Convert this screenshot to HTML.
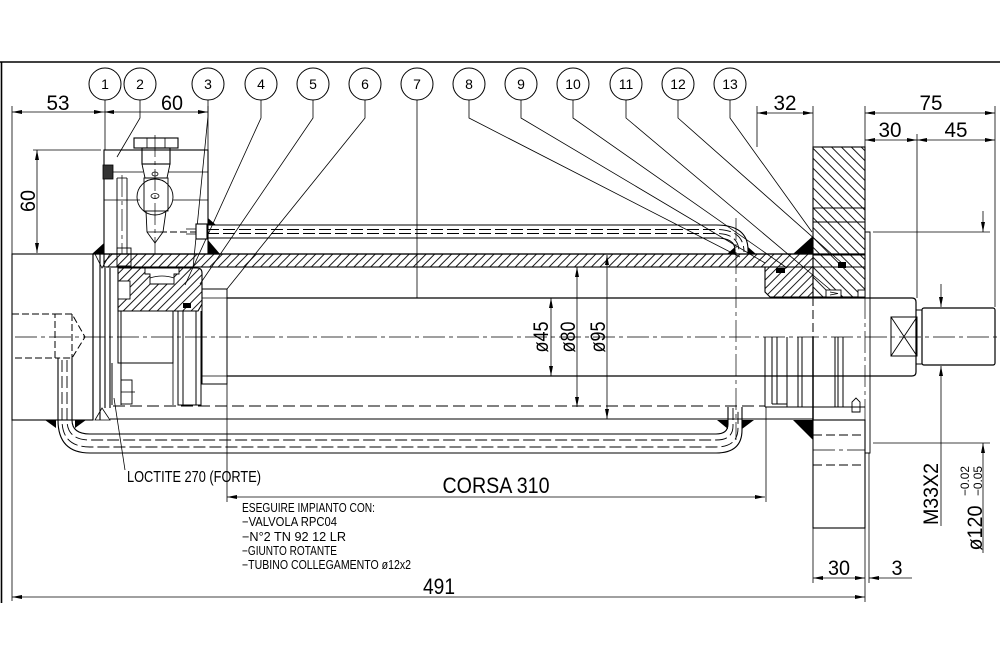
<!DOCTYPE html>
<html><head><meta charset="utf-8"><style>
html,body{margin:0;padding:0;background:#fff;}
svg{display:block;}
text{font-family:"Liberation Sans",Arial,sans-serif;fill:#000;}
</style></head><body>
<svg width="1000" height="667" viewBox="0 0 1000 667" xmlns="http://www.w3.org/2000/svg">
<defs>
<pattern id="hA" patternUnits="userSpaceOnUse" width="6" height="6" patternTransform="rotate(45)"><line x1="1" y1="0" x2="1" y2="6" stroke="#000" stroke-width="0.9"/></pattern>
<pattern id="hB" patternUnits="userSpaceOnUse" width="7" height="7" patternTransform="rotate(-45)"><line x1="1" y1="0" x2="1" y2="7" stroke="#000" stroke-width="0.9"/></pattern>
<marker id="ar" viewBox="0 0 10 4" refX="10" refY="2" markerWidth="10" markerHeight="4" markerUnits="userSpaceOnUse" orient="auto-start-reverse"><path d="M0,0 L10,2 L0,4 z" fill="#000"/></marker>
</defs>
<rect width="1000" height="667" fill="#fff"/>

<!-- frame -->
<g stroke="#000" fill="none">
<line x1="0" y1="62" x2="1000" y2="62" stroke-width="1.6"/>
<line x1="1.5" y1="62" x2="1.5" y2="603" stroke-width="1.6"/>
</g>

<!-- balloons -->
<g stroke="#000" fill="none" stroke-width="1">
<circle cx="105" cy="84" r="16"/><circle cx="140" cy="84" r="16"/><circle cx="208" cy="84" r="16"/>
<circle cx="261" cy="84" r="16"/><circle cx="313" cy="84" r="16"/><circle cx="365" cy="84" r="16"/>
<circle cx="417" cy="84" r="16"/><circle cx="469" cy="84" r="16"/><circle cx="521" cy="84" r="16"/>
<circle cx="573" cy="84" r="16"/><circle cx="626" cy="84" r="16"/><circle cx="678" cy="84" r="16"/>
<circle cx="730" cy="84" r="16"/>
</g>
<g font-size="14" text-anchor="middle">
<text x="105" y="89">1</text><text x="140" y="89">2</text><text x="208" y="89">3</text>
<text x="261" y="89">4</text><text x="313" y="89">5</text><text x="365" y="89">6</text>
<text x="417" y="89">7</text><text x="469" y="89">8</text><text x="521" y="89">9</text>
<text x="573" y="89">10</text><text x="626" y="89">11</text><text x="678" y="89">12</text>
<text x="730" y="89">13</text>
</g>

<!-- leaders -->
<g stroke="#000" fill="none" stroke-width="0.8">
<path d="M105,100 V150"/>
<path d="M140,100 V118 L117,157"/>
<path d="M208,100 V116 L193,268"/>
<path d="M261,100 V118 L185,285"/>
<path d="M313,100 V118 L200,284"/>
<path d="M365,100 V118 L227,289"/>
<path d="M417,100 V298"/>
<path d="M469,100 V118 L740,257"/>
<path d="M521,100 V118 L765,263"/>
<path d="M573,100 V118 L787,268"/>
<path d="M626,100 V118 L833,292"/>
<path d="M678,100 V118 L843,264"/>
<path d="M730,100 V118 L812,232"/>
</g>

<!-- center lines -->
<g stroke="#000" fill="none" stroke-width="0.7" stroke-dasharray="22,4,4,4">
<line x1="15" y1="337" x2="1000" y2="337"/>
<line x1="155" y1="135" x2="155" y2="254"/>
<line x1="122" y1="175" x2="122" y2="254"/>
<line x1="736" y1="218" x2="736" y2="440"/>
<line x1="865" y1="297" x2="865" y2="453"/>
<line x1="813" y1="450" x2="865" y2="450"/>
</g>

<!-- extension lines -->
<g stroke="#000" fill="none" stroke-width="0.8">
<line x1="12" y1="106" x2="12" y2="601"/>
<line x1="208" y1="106" x2="208" y2="150"/>
<line x1="33" y1="150" x2="101" y2="150"/>
<line x1="757" y1="106" x2="757" y2="147"/>
<line x1="813" y1="106" x2="813" y2="147"/>
<line x1="865" y1="106" x2="865" y2="147"/>
<line x1="917" y1="134" x2="917" y2="298"/>
<line x1="995" y1="106" x2="995" y2="307"/>
<line x1="227" y1="384" x2="227" y2="502"/>
<line x1="766" y1="407" x2="766" y2="502"/>
<line x1="873" y1="232" x2="990" y2="232"/>
<line x1="873" y1="443" x2="990" y2="443"/>
<line x1="813" y1="528" x2="813" y2="583"/>
<line x1="865" y1="453" x2="865" y2="602"/>
<line x1="869" y1="453" x2="869" y2="583"/>
</g>

<!-- dimension lines -->
<g stroke="#000" fill="none" stroke-width="0.8" marker-start="url(#ar)" marker-end="url(#ar)">
<line x1="12" y1="112" x2="104" y2="112"/>
<line x1="104" y1="112" x2="208" y2="112"/>
<line x1="37" y1="150" x2="37" y2="253"/>
<line x1="757" y1="113" x2="813" y2="113"/>
<line x1="865" y1="113" x2="995" y2="113"/>
<line x1="865" y1="140" x2="917" y2="140"/>
<line x1="917" y1="140" x2="995" y2="140"/>
<line x1="227" y1="497" x2="765" y2="497"/>
<line x1="12" y1="597" x2="865" y2="597"/>
<line x1="813" y1="578" x2="865" y2="578"/>
<line x1="551" y1="298" x2="551" y2="376"/>
<line x1="577" y1="267" x2="577" y2="407"/>
<line x1="607" y1="255" x2="607" y2="419"/>
</g>
<g stroke="#000" fill="none" stroke-width="0.8">
<line x1="941" y1="284" x2="941" y2="307" marker-end="url(#ar)"/>
<line x1="941" y1="366" x2="941" y2="526" marker-start="url(#ar)"/>
<line x1="983" y1="211" x2="983" y2="232" marker-end="url(#ar)"/>
<line x1="983" y1="443" x2="983" y2="553" marker-start="url(#ar)"/>
<line x1="869" y1="578" x2="912" y2="578" marker-start="url(#ar)"/>
<line x1="917" y1="140" x2="917" y2="140"/>
</g>

<!-- LEFT CAP -->
<g stroke="#000" fill="none" stroke-width="1.1">
<rect x="12" y="254" width="81" height="166"/>
<path d="M93,254 V420 M100,254 V420 M105,268 V408 M110,268 V408"/>
<path d="M95,254 L110,254 L102,268 Z M95,420 L110,420 L102,408 Z" stroke-width="0.8"/>
</g>
<!-- left hidden port -->
<g stroke="#000" fill="none" stroke-width="1" stroke-dasharray="7,3">
<path d="M12,314 H55 V358 H12"/>
<path d="M55,314 H72 L85,337 L72,358 H55"/>
<path d="M72,314 V358"/>
</g>

<!-- VALVE BLOCK 2 -->
<g stroke="#000" fill="none" stroke-width="1.1">
<rect x="104" y="150" width="104" height="104"/>
<path d="M104,172 H143 M168,172 H208 M104,200 H140 M173,200 H208" stroke-width="0.8"/>
<path d="M117,178 V254 M127,178 V254" stroke-width="0.9"/>
<path d="M117,178 H127" stroke-width="0.8"/>
<rect x="117" y="248" width="14" height="18" stroke-width="0.9"/>
<rect x="134" y="138" width="44" height="10"/>
<path d="M147,138 V148 M165,138 V148" stroke-width="0.8"/>
<rect x="142" y="148" width="28" height="16"/>
<path d="M142,164 L145,178 H167 L170,164" stroke-width="0.9"/>
<circle cx="155" cy="197" r="18" stroke-width="0.9"/>
<rect x="144" y="178" width="24" height="33" stroke-width="0.9"/>
<ellipse cx="155" cy="174" rx="3" ry="2" stroke-width="0.8"/>
<ellipse cx="155" cy="196" rx="4" ry="2.5" stroke-width="0.8"/>
<path d="M146,211 L147,232 L155,243 L163,232 L166,211" stroke-width="0.9"/>
<path d="M147,232 H163" stroke-width="0.8"/>
</g>
<rect x="103" y="165" width="10" height="14" fill="#333" stroke="#000" stroke-width="0.8"/>
<path d="M160,232 H196" stroke="#000" stroke-width="0.9" stroke-dasharray="7,3" fill="none"/>

<!-- TOP PIPE -->
<g stroke="#000" fill="none" stroke-width="1.1">
<path d="M196,225 H716 Q748,225 748,250 V254"/>
<path d="M196,238 H716 Q735,238 735,250 V254"/>
<rect x="196" y="224" width="11" height="15" fill="#fff"/>
<path d="M186,229 H196 M186,234 H196" stroke-width="0.8"/>
</g>
<g stroke="#000" fill="none" stroke-width="0.9" stroke-dasharray="12,4">
<path d="M207,229.5 H716 Q744,229.5 744,252"/>
<path d="M207,233.5 H716 Q739,233.5 739,252"/>
</g>

<!-- BARREL TOP WALL -->
<rect x="104" y="254" width="709" height="13" fill="url(#hA)" stroke="#000" stroke-width="1.1"/>
<line x1="93" y1="254" x2="865" y2="254" stroke="#000" stroke-width="1.2"/>

<!-- welds -->
<g fill="#000">
<path d="M92,254 L104,243 L104,254 Z"/>
<path d="M208,218 L216,225 L208,225 Z"/>
<path d="M208,240 L208,254 L220,254 Z"/>
<path d="M727,254 L735,247 L735,254 Z"/>
<path d="M748,247 L748,254 L756,254 Z"/>
<path d="M793,254 L813,236 L813,254 Z"/>
<path d="M45,420 L56,420 L56,428 Z"/>
<path d="M75,420 L86,420 L75,428 Z"/>
<path d="M717,420 L728,420 L728,429 Z"/>
<path d="M742,420 L754,420 L742,429 Z"/>
<path d="M793,420 L813,420 L813,440 Z"/>
</g>

<!-- PISTON -->
<path d="M118,268 H197 Q202,268 202,273 V304 L198,311 H118 Z" fill="url(#hA)" stroke="#000" stroke-width="1.1"/>
<path d="M145,268 V274 H150 V284 H174 V274 H179 V268 Z" fill="#fff" stroke="#000" stroke-width="0.9"/>
<path d="M150,278 Q162,274 174,278" fill="none" stroke="#000" stroke-width="0.8"/>
<rect x="118" y="281" width="12" height="18" fill="#fff" stroke="#000" stroke-width="0.9"/>
<rect x="183" y="303" width="8" height="5" fill="#000"/>
<g stroke="#000" fill="none" stroke-width="1">
<rect x="118" y="311" width="55" height="52"/>
<path d="M121,311 V405 M112,363 V405"/>
<path d="M178,311 V405 H201 V311 M183,311 V405 M196,311 V405"/>
<rect x="202" y="289" width="25" height="95"/>
<path d="M202,298 H227 M202,376 H227" stroke-width="0.8"/>
<rect x="121" y="380" width="11" height="24" stroke-width="0.9"/>
<path d="M121,392 H132 L135,392" stroke-width="0.8"/>
<path d="M173,363 V405" stroke-width="0.8"/>
</g>

<!-- ROD -->
<g stroke="#000" fill="none" stroke-width="1.2">
<path d="M227,298 H912 Q916,298 916,302 V372 Q916,376 912,376 H227"/>
<rect x="891" y="317" width="26" height="39" stroke-width="1"/>
<path d="M891,317 L917,356 M917,317 L891,356" stroke-width="0.9"/>
<path d="M916,310 H922 M916,364 H922" stroke-width="0.9"/>
<rect x="922" y="308" width="73" height="57" rx="2"/>
</g>

<!-- barrel lower -->
<g stroke="#000" fill="none" stroke-width="1.1">
<line x1="110" y1="419" x2="813" y2="419"/>
</g>
<line x1="113" y1="406" x2="765" y2="406" stroke="#000" stroke-width="1" stroke-dasharray="12,5"/>

<!-- BOTTOM PIPE -->
<g stroke="#000" fill="none" stroke-width="1.1">
<path d="M58,358 V420 Q58,453 90,453 H716 Q742,453 742,430 V407"/>
<path d="M72,358 V420 Q72,434 90,434 H716 Q728,434 728,424 V407"/>
</g>
<g stroke="#000" fill="none" stroke-width="0.9" stroke-dasharray="12,4">
<path d="M62,360 V420 Q62,447 90,447 H716 Q738,447 738,428 V408"/>
<path d="M67,360 V420 Q67,440 90,440 H716 Q733,440 733,426 V408"/>
</g>

<!-- FLANGE & GLAND -->
<rect x="813" y="147" width="52" height="150" fill="url(#hB)" stroke="#000" stroke-width="1.1"/>
<path d="M765,267 H813 V297 H770 L765,292 Z" fill="url(#hA)" stroke="#000" stroke-width="1.1"/>
<g stroke="#000" fill="none" stroke-width="0.9">
<path d="M813,208 H865 M813,222 H865 M813,255 H865 M813,267 H865"/>
<path d="M865,232 H870 V453 H865"/>
</g>
<rect x="776" y="268" width="9" height="5" fill="#000"/>
<rect x="838" y="262" width="8" height="6" fill="#000"/>
<rect x="826" y="290" width="15" height="7" fill="#fff" stroke="#000" stroke-width="0.9"/>
<path d="M830,292 L838,293.5 L830,295" fill="none" stroke="#000" stroke-width="0.7"/>
<rect x="858" y="290" width="7" height="7" fill="#fff" stroke="#000" stroke-width="0.9"/>
<line x1="813" y1="297" x2="813" y2="420" stroke="#000" stroke-width="1" stroke-dasharray="9,4"/>

<!-- gland lower rings -->
<g stroke="#000" fill="none" stroke-width="1">
<path d="M765,337 V407 M772,337 V404 M777,337 V404 M787,337 V407 M798,337 V407 M802,337 V407 M835,337 V407 M838,337 V407 M843,337 V407"/>
<path d="M813,337 V420" stroke-width="1.5"/>
<path d="M765,407 H865"/>
<path d="M772,404 H787"/>
<path d="M852,412 V402 L856,398 L860,402 V412 Z" stroke-width="0.9"/>
</g>

<!-- bottom flange -->
<rect x="813" y="420" width="52" height="108" fill="none" stroke="#000" stroke-width="1.1"/>
<g stroke="#000" fill="none" stroke-width="0.9" stroke-dasharray="9,4">
<line x1="813" y1="435" x2="865" y2="435"/>
<line x1="813" y1="465" x2="865" y2="465"/>
</g>

<!-- LOCTITE leader -->
<path d="M114,398 L125,470" stroke="#000" stroke-width="0.8" fill="none"/>

<!-- texts -->
<g font-size="21" text-anchor="middle">
<text x="58" y="110" textLength="23" lengthAdjust="spacingAndGlyphs">53</text>
<text x="172" y="110" textLength="22" lengthAdjust="spacingAndGlyphs">60</text>
<text transform="translate(35,201) rotate(-90)" textLength="22" lengthAdjust="spacingAndGlyphs">60</text>
<text x="785" y="110" textLength="23" lengthAdjust="spacingAndGlyphs">32</text>
<text x="931" y="110" textLength="23" lengthAdjust="spacingAndGlyphs">75</text>
<text x="890" y="137" textLength="23" lengthAdjust="spacingAndGlyphs">30</text>
<text x="956" y="137" textLength="23" lengthAdjust="spacingAndGlyphs">45</text>
<text x="839" y="575" textLength="22" lengthAdjust="spacingAndGlyphs">30</text>
<text x="897" y="575" textLength="11" lengthAdjust="spacingAndGlyphs">3</text>
<text x="496" y="493" font-size="22" textLength="107" lengthAdjust="spacingAndGlyphs">CORSA 310</text>
<text x="439" y="594" font-size="22" textLength="32" lengthAdjust="spacingAndGlyphs">491</text>
<text transform="translate(548,337) rotate(-90)" textLength="31" lengthAdjust="spacingAndGlyphs">ø45</text>
<text transform="translate(575,337) rotate(-90)" textLength="31" lengthAdjust="spacingAndGlyphs">ø80</text>
<text transform="translate(605,337) rotate(-90)" textLength="31" lengthAdjust="spacingAndGlyphs">ø95</text>
<text transform="translate(938,494) rotate(-90)" textLength="62" lengthAdjust="spacingAndGlyphs">M33X2</text>
<text transform="translate(982,528) rotate(-90)" textLength="45" lengthAdjust="spacingAndGlyphs">ø120</text>
</g>
<g font-size="12" text-anchor="middle">
<text transform="translate(969,481) rotate(-90)" textLength="30" lengthAdjust="spacingAndGlyphs">−0.02</text>
<text transform="translate(982,481) rotate(-90)" textLength="30" lengthAdjust="spacingAndGlyphs">−0.05</text>
</g>
<text x="127" y="482" font-size="16" textLength="134" lengthAdjust="spacingAndGlyphs">LOCTITE 270 (FORTE)</text>
<g font-size="12.5">
<text x="242" y="512" textLength="133" lengthAdjust="spacingAndGlyphs">ESEGUIRE IMPIANTO CON:</text>
<text x="242" y="526" textLength="95" lengthAdjust="spacingAndGlyphs">−VALVOLA RPC04</text>
<text x="242" y="541" textLength="104" lengthAdjust="spacingAndGlyphs">−N°2 TN 92 12 LR</text>
<text x="242" y="555" textLength="95" lengthAdjust="spacingAndGlyphs">−GIUNTO ROTANTE</text>
<text x="242" y="569" textLength="169" lengthAdjust="spacingAndGlyphs">−TUBINO COLLEGAMENTO ø12x2</text>
</g>
</svg>
</body></html>
